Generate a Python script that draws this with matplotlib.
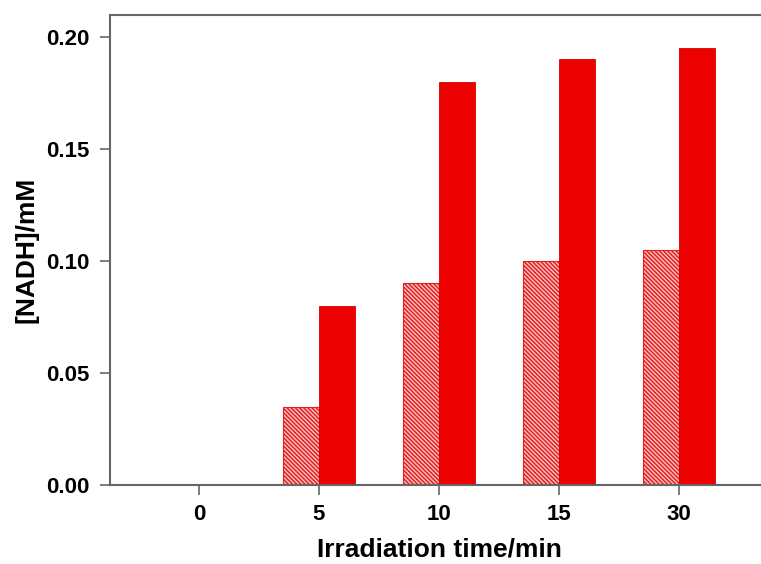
import numpy as np
import matplotlib.pyplot as plt

# Irradiation times and NADH concentrations (mM)
times = ["0", "5", "10", "15", "30"]
nadh_hatched = [0.0, 0.035, 0.09, 0.10, 0.105]
nadh_solid = [0.0, 0.08, 0.18, 0.19, 0.195]

plt.rcParams['font.family'] = ['Liberation Sans', 'DejaVu Sans']
plt.rcParams['font.weight'] = 'bold'
plt.rcParams['hatch.linewidth'] = 1.1
plt.rcParams['hatch.color'] = '#e52020'

fig = plt.figure(figsize=(7.61, 5.64), dpi=100)
ax = fig.add_axes([110 / 761, 1 - 485 / 564, 658 / 761, 470 / 564])

x = np.arange(len(times))
w = 0.3
ax.bar(x - w / 2, nadh_hatched, w, facecolor='#f7c4c4', edgecolor='#e52020',
       hatch='\\\\\\\\\\\\\\\\', linewidth=0.8)
ax.bar(x + w / 2, nadh_solid, w, color='#ec0000', edgecolor='#d80000', linewidth=0.6)

ax.set_xlim(-0.74, 4.74)
ax.set_ylim(0, 0.2098)
ax.set_xticks(x)
ax.set_xticklabels(times)
ax.set_yticks([0, 0.05, 0.10, 0.15, 0.20])
ax.set_yticklabels(["0.00", "0.05", "0.10", "0.15", "0.20"])

for s in ax.spines.values():
    s.set_color('#666666')
    s.set_linewidth(1.5)
ax.tick_params(direction='out', length=7, width=1.2, color='#666666',
               labelsize=16, pad=8)
ax.tick_params(axis='x', pad=7)

ax.set_xlabel("Irradiation time/min", fontsize=19, fontweight='bold', labelpad=9)
ax.set_ylabel("[NADH]/mM", fontsize=19, fontweight='bold', labelpad=5)

fig.savefig("out.png", dpi=100)
